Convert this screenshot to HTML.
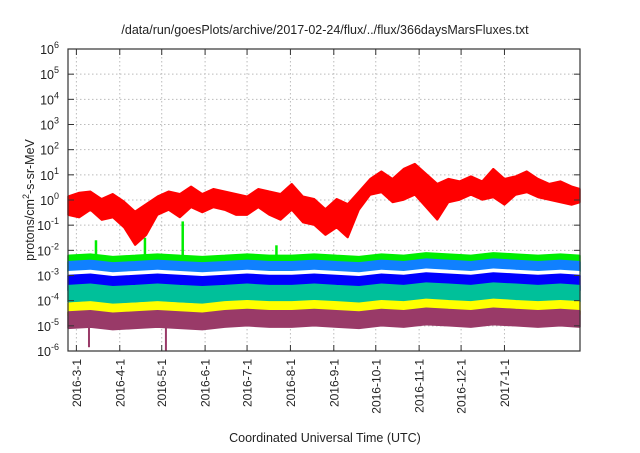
<!DOCTYPE html>
<html><head><meta charset="utf-8"><style>
body{margin:0;background:#fff;}
svg text{font-family:"Liberation Sans",sans-serif;fill:#222;}
</style></head><body>
<svg id="chart" width="640" height="448" viewBox="0 0 640 448" xmlns="http://www.w3.org/2000/svg">
<rect width="640" height="448" fill="#fff"/>
<text x="325" y="34" font-size="12.5" text-anchor="middle">/data/run/goesPlots/archive/2017-02-24/flux/../flux/366daysMarsFluxes.txt</text>
<g id="grid"></g>
<g id="series"></g>
<g id="axes"></g>
<text transform="translate(34,200) rotate(-90)" font-size="12.5" text-anchor="middle">protons/cm<tspan font-size="9" dy="-5">2</tspan><tspan dy="5">-s-sr-MeV</tspan></text>
<text x="325" y="442" font-size="12.5" text-anchor="middle">Coordinated Universal Time (UTC)</text>
</svg>
<script>
// x in days since 2016-03-01, y in log10 flux
const tickLabels = ["2016-3-1","2016-4-1","2016-5-1","2016-6-1","2016-7-1","2016-8-1","2016-9-1","2016-10-1","2016-11-1","2016-12-1","2017-1-1"];
const tickDays = [0,31,61,92,122,153,184,214,245,275,306];
const yDecades = [-6,-5,-4,-3,-2,-1,0,1,2,3,4,5,6];
const redStartDay = -6, redStep = 8;
const redHi = [0.15,0.3,0.35,0.05,0.25,-0.05,-0.45,-0.15,0.15,0.35,0.25,0.55,0.25,0.45,0.35,0.25,0.15,0.45,0.35,0.25,0.65,0.15,0.05,-0.35,0.05,-0.15,0.35,0.85,1.15,0.85,1.25,1.45,1.05,0.65,0.85,0.75,0.95,0.75,1.25,0.85,0.95,1.15,0.85,0.65,0.75,0.55,0.45];
const redLo = [-0.6,-0.7,-0.4,-0.8,-0.7,-1.1,-1.8,-1.4,-0.6,-0.4,-0.7,-0.3,-0.5,-0.3,-0.4,-0.6,-0.6,-0.3,-0.6,-0.8,-0.4,-0.9,-1.0,-1.4,-1.1,-1.5,-0.4,0.2,0.3,-0.1,0.0,0.2,-0.3,-0.8,-0.1,0.0,0.2,0.0,0.1,-0.2,0.2,0.3,0.1,0.0,-0.1,-0.2,-0.1];
const bandStep = 16;
const greenHi = [-2.2,-2.15,-2.25,-2.2,-2.15,-2.2,-2.25,-2.2,-2.15,-2.2,-2.2,-2.15,-2.2,-2.25,-2.15,-2.2,-2.1,-2.15,-2.2,-2.1,-2.15,-2.2,-2.15,-2.2];
const lightBlueHi = [-2.45,-2.4,-2.5,-2.45,-2.4,-2.45,-2.5,-2.45,-2.4,-2.45,-2.45,-2.4,-2.45,-2.5,-2.4,-2.45,-2.35,-2.4,-2.45,-2.35,-2.4,-2.45,-2.4,-2.45];
const whiteHi = [-2.85,-2.8,-2.9,-2.85,-2.8,-2.85,-2.9,-2.85,-2.8,-2.85,-2.85,-2.8,-2.85,-2.9,-2.8,-2.85,-2.75,-2.8,-2.85,-2.75,-2.8,-2.85,-2.8,-2.85];
const blueHi = [-3.0,-2.95,-3.05,-3.0,-2.95,-3.0,-3.05,-3.0,-2.95,-3.0,-3.0,-2.95,-3.0,-3.05,-2.95,-3.0,-2.9,-2.95,-3.0,-2.9,-2.95,-3.0,-2.95,-3.0];
const tealHi = [-3.4,-3.35,-3.45,-3.4,-3.35,-3.4,-3.45,-3.4,-3.35,-3.4,-3.4,-3.35,-3.4,-3.45,-3.35,-3.4,-3.3,-3.35,-3.4,-3.3,-3.35,-3.4,-3.35,-3.4];
const yellowHi = [-4.1,-4.05,-4.15,-4.1,-4.05,-4.1,-4.15,-4.05,-4.0,-4.05,-4.05,-4.0,-4.05,-4.1,-4.0,-4.05,-3.95,-4.0,-4.05,-3.95,-4.0,-4.05,-4.0,-4.05];
const purpleHi = [-4.45,-4.4,-4.5,-4.45,-4.4,-4.45,-4.5,-4.4,-4.35,-4.4,-4.4,-4.35,-4.4,-4.45,-4.35,-4.4,-4.3,-4.35,-4.4,-4.3,-4.35,-4.4,-4.35,-4.4];
const bandWidths = [0.75,0.6,0.3,0.6,0.65,0.5,0.65];
const greenSpikeDays = [14,49,76,143];
const greenSpikeVals = [-1.6,-1.5,-0.85,-1.8];
const purpleSpikeDays = [9,64];
const purpleSpikeVals = [-5.85,-6.0];

const X0=68,X1=580,Y0=49,Y1=351,D0=-6,D1=360;
const xs=d=>X0+(d-D0)*(X1-X0)/(D1-D0);
const ys=v=>Y1-(v-(-6))*(Y1-Y0)/12;
const NS="http://www.w3.org/2000/svg";
function mk(tag,attrs,parent){const e=document.createElementNS(NS,tag);for(const k in attrs)e.setAttribute(k,attrs[k]);parent.appendChild(e);return e;}
const grid=document.getElementById('grid'),ser=document.getElementById('series'),ax=document.getElementById('axes');
tickDays.forEach((d,i)=>{
  const l=mk('line',{x1:xs(d),x2:xs(d),y1:Y0,y2:Y1,stroke:'#bbb','stroke-dasharray':'1.5,2.5','stroke-width':1},grid);
  
  
  mk('line',{x1:xs(d),x2:xs(d),y1:Y1,y2:Y1-6,stroke:'#333'},ax);
  mk('line',{x1:xs(d),x2:xs(d),y1:Y0,y2:Y0+6,stroke:'#333'},ax);
  const t=mk('text',{transform:`translate(${xs(d)+4.5},${Y1+8}) rotate(-90)`,'font-size':12,'text-anchor':'end'},ax);
  
  
  t.textContent=tickLabels[i];
});
yDecades.forEach(v=>{
  const y=ys(v);
  if(v>-6&&v<6){const l=mk('line',{x1:X0,x2:X1,y1:y,y2:y,stroke:'#bbb','stroke-dasharray':'1.5,2.5'},grid);
  
  }
  mk('line',{x1:X0,x2:X0+6,y1:y,y2:y,stroke:'#333'},ax);
  mk('line',{x1:X1,x2:X1-6,y1:y,y2:y,stroke:'#333'},ax);
  const t=mk('text',{x:59,y:y+5,'font-size':12.5,'text-anchor':'end'},ax);
  
  
  t.innerHTML='10<tspan font-size="9" dy="-6">'+v+'</tspan>';
});
function band(hi,lo,start,step,color,name){
  let p='';
  hi.forEach((v,i)=>{const d=Math.min(start+i*step,D1);p+=(i?'L':'M')+xs(d).toFixed(1)+','+ys(v).toFixed(1);});
  for(let i=lo.length-1;i>=0;i--){const d=Math.min(start+i*step,D1);p+='L'+xs(d).toFixed(1)+','+ys(lo[i]).toFixed(1);}
  const e=mk('path',{d:p+'Z',fill:color,stroke:color,'stroke-width':1.5,'stroke-linejoin':'bevel'},ser);
  
  
}
const bandSeries=[[greenHi,'#00ee00','green-band'],[lightBlueHi,'#1080ff','lightblue-band'],[whiteHi,'#ffffff','white-band'],[blueHi,'#0000ff','blue-band'],[tealHi,'#00c09a','teal-band'],[yellowHi,'#ffff00','yellow-band'],[purpleHi,'#993a68','purple-band']];
bandSeries.forEach((s,k)=>{
  const lo=s[0].map(v=>v-bandWidths[k]);
  band(s[0],lo,D0,bandStep,s[1],s[2]);
});
greenSpikeDays.forEach((d,i)=>{
  const e=mk('line',{x1:xs(d),x2:xs(d),y1:ys(greenSpikeVals[i]),y2:ys(-2.3),stroke:'#00ee00','stroke-width':2.5},ser);
  
  
});
purpleSpikeDays.forEach((d,i)=>{
  const e=mk('line',{x1:xs(d),x2:xs(d),y1:ys(purpleSpikeVals[i]),y2:ys(-5),stroke:'#993a68','stroke-width':2},ser);
  
  
});
band(redHi,redLo,redStartDay,redStep,'#ff0000','red-band');
const fr=mk('rect',{x:X0,y:Y0,width:X1-X0,height:Y1-Y0,fill:'none',stroke:'#333','stroke-width':1.2},ax);


</script>
</body></html>
